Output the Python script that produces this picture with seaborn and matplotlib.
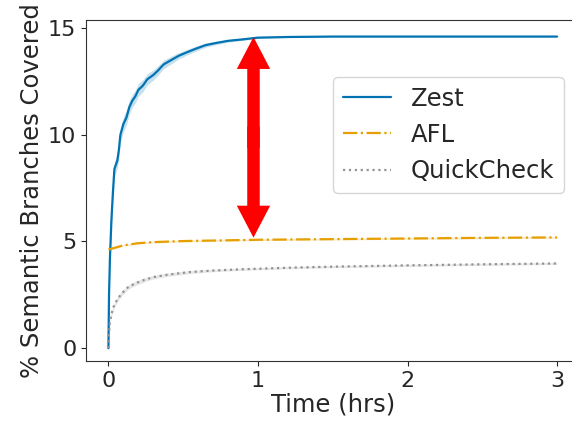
import numpy as np
import pandas as pd
import matplotlib
matplotlib.use("Agg")
import matplotlib.pyplot as plt
import seaborn as sns

# ---- data ----
zest_t = [0, 0.004, 0.01, 0.02, 0.03, 0.04, 0.05, 0.06, 0.07, 0.08, 0.1, 0.12,
          0.14, 0.16, 0.18, 0.2, 0.23, 0.26, 0.3, 0.33, 0.37, 0.42, 0.47, 0.52,
          0.58, 0.65, 0.72, 0.8, 0.9, 1.0, 1.2, 1.5, 2.0, 2.5, 3.0]
zest_v = [0, 2.5, 4.2, 6.0, 7.3, 8.4, 8.6, 8.8, 9.3, 10.0, 10.5, 10.8,
          11.3, 11.6, 11.8, 12.1, 12.3, 12.6, 12.8, 13.0, 13.3, 13.5, 13.7, 13.85,
          14.02, 14.2, 14.3, 14.4, 14.47, 14.55, 14.58, 14.6, 14.6, 14.6, 14.6]
zest_ci = [0.0, 0.2, 0.3, 0.35, 0.35, 0.35, 0.35, 0.35, 0.35, 0.35, 0.35, 0.35,
           0.33, 0.3, 0.3, 0.3, 0.28, 0.26, 0.24, 0.22, 0.2, 0.18, 0.15, 0.13,
           0.12, 0.1, 0.08, 0.06, 0.05, 0.03, 0.02, 0.01, 0.01, 0.01, 0.01]

afl_t = [0, 0.05, 0.1, 0.2, 0.3, 0.5, 0.75, 1.0, 1.5, 2.0, 2.5, 3.0]
afl_v = [4.62, 4.72, 4.82, 4.92, 4.97, 5.02, 5.05, 5.08, 5.11, 5.14, 5.17, 5.19]
afl_ci = [0.04] * 12

qc_t = [0, 0.003, 0.01, 0.02, 0.035, 0.06, 0.09, 0.13, 0.18, 0.24, 0.3, 0.4,
        0.55, 0.7, 0.9, 1.2, 1.5, 2.0, 2.5, 3.0]
qc_v = [0, 0.6, 1.2, 1.6, 1.95, 2.3, 2.57, 2.85, 3.04, 3.2, 3.33, 3.45,
        3.57, 3.64, 3.7, 3.77, 3.82, 3.88, 3.93, 3.97]
qc_ci = [0.0, 0.1, 0.12, 0.12, 0.12, 0.12, 0.12, 0.1, 0.1, 0.1, 0.08, 0.08,
         0.07, 0.06, 0.05, 0.05, 0.05, 0.05, 0.05, 0.05]

series_names = ["Zest", "AFL", "QuickCheck"]
x_ticks = [0, 1, 2, 3]
y_ticks = [0, 5, 10, 15]
arrow_x = 0.97
arrow_top = 14.58
arrow_bottom = 5.18

# ---- plotting ----
sns.set_style("ticks")
plt.rcParams["font.family"] = ["DejaVu Sans"]

pal = sns.color_palette("colorblind")
colors = {"Zest": pal[0], "AFL": "#E69F00", "QuickCheck": pal[7]}
styles = {"Zest": "-", "AFL": "-.", "QuickCheck": ":"}

fig = plt.figure(figsize=(5.72, 4.22), dpi=100)
ax = fig.add_axes([86 / 572, 61 / 422, (579.5 - 86) / 572, (361 - 19.5) / 422])

data = {
    "Zest": (zest_t, zest_v, zest_ci),
    "AFL": (afl_t, afl_v, afl_ci),
    "QuickCheck": (qc_t, qc_v, qc_ci),
}
for name in series_names:
    t, v, ci = data[name]
    df = pd.DataFrame({"t": t, "v": v})
    sns.lineplot(data=df, x="t", y="v", ax=ax, color=colors[name],
                 linestyle=styles[name], linewidth=1.6, label=name)
    lo = np.array(v) - np.array(ci)
    hi = np.array(v) + np.array(ci)
    ax.fill_between(t, lo, hi, color=colors[name], alpha=0.22, linewidth=0)

arrow_mid = (arrow_top + arrow_bottom) / 2
for tip, start in ((arrow_top, arrow_mid - 0.5), (arrow_bottom, arrow_mid + 0.5)):
    ax.annotate("", xy=(arrow_x, tip), xytext=(arrow_x, start),
                arrowprops=dict(arrowstyle="simple,head_width=1.2,head_length=1.15,tail_width=0.45",
                                color="red", lw=0, mutation_scale=20,
                                shrinkA=0, shrinkB=0))

ax.set_xticks(x_ticks)
ax.set_yticks(y_ticks)
ax.set_xlim(-0.15, 3.15)
ax.set_ylim(-0.6, 15.4)
ax.tick_params(labelsize=16)
ax.set_xlabel("Time (hrs)", fontsize=17.5, labelpad=1)
ax.set_ylabel("% Semantic Branches Covered", fontsize=17.5, labelpad=3)
for s in ax.spines.values():
    s.set_visible(True)
    s.set_color("#333333")
ax.spines["right"].set_visible(False)

leg = ax.legend(loc="upper left", bbox_to_anchor=(333 / 572, 1 - 77 / 422),
                bbox_transform=fig.transFigure, borderaxespad=0, fontsize=17.5,
                handlelength=2.0, frameon=True)

fig.savefig("out.png", dpi=100)
